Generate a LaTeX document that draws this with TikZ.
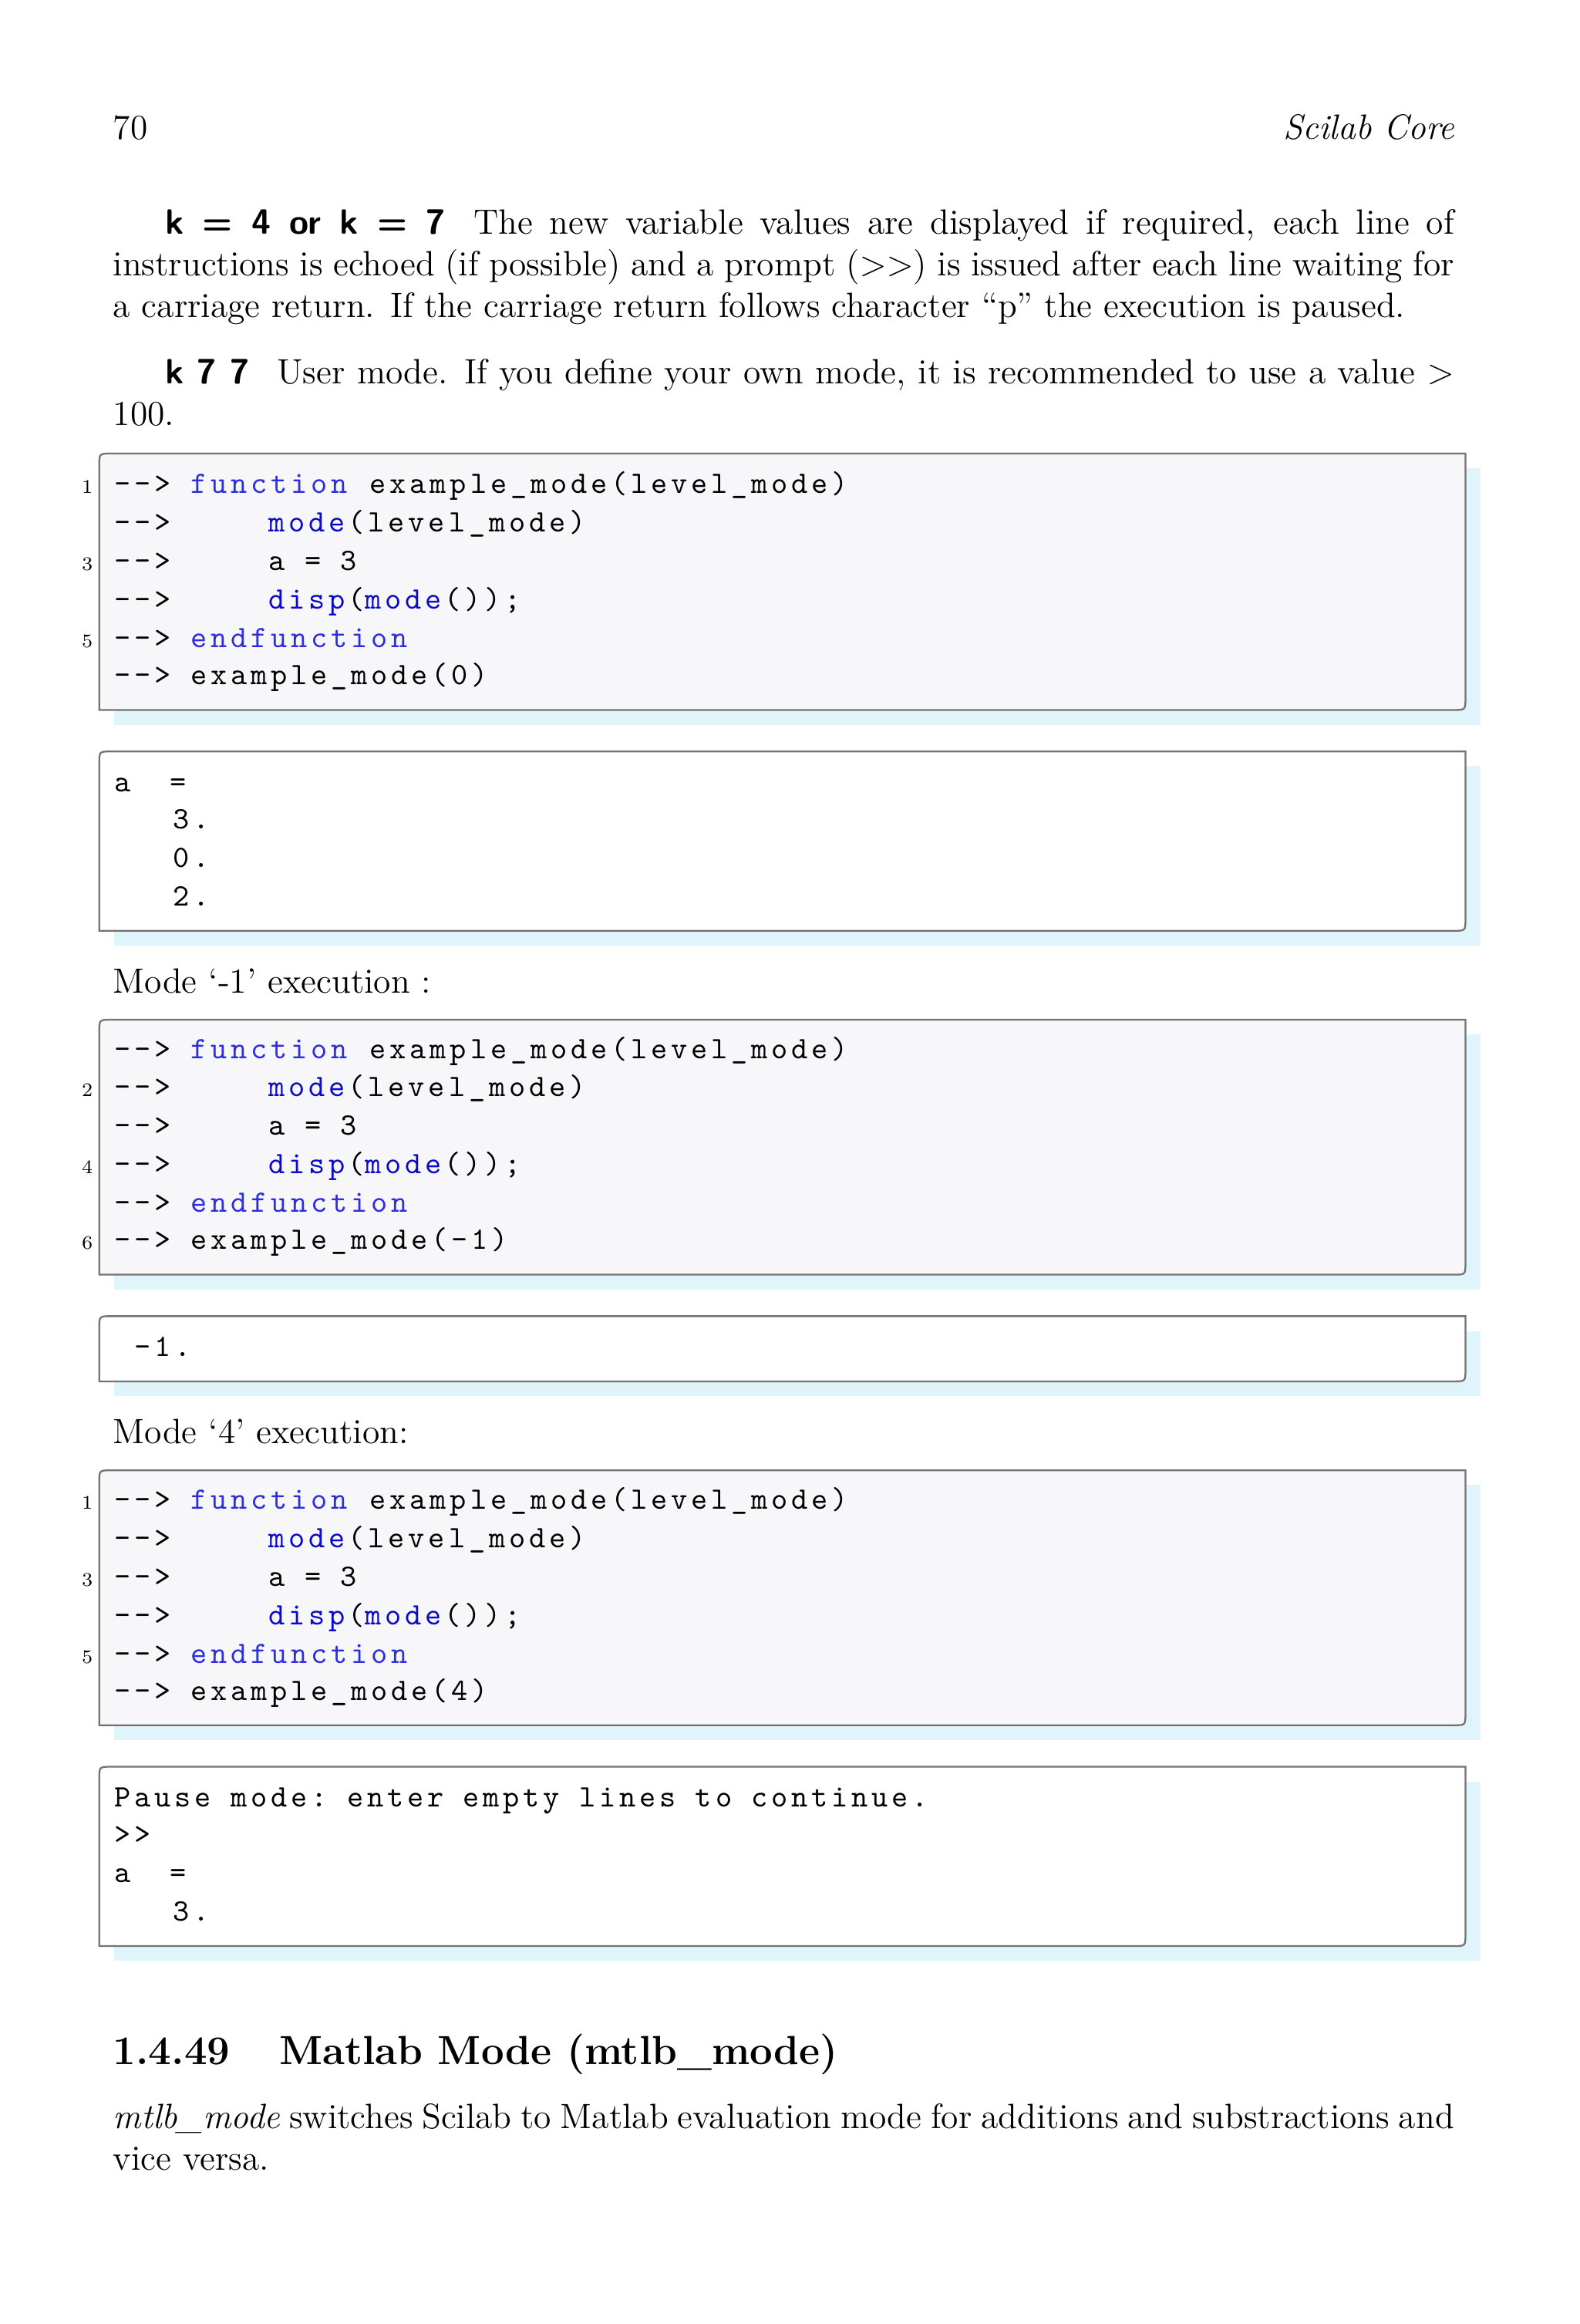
\documentclass[tikz,border=0pt]{standalone}
\usepackage{fontspec}
\newfontfamily\cf[LetterSpace=12]{Latin Modern Mono}
\definecolor{kwA}{RGB}{45,45,225}
\definecolor{kwB}{RGB}{10,10,200}
\definecolor{shad}{RGB}{224,244,251}
\definecolor{codebg}{RGB}{247,247,249}
\newcommand{\sP}{\hbox to 6.6pt{}}
\newcommand{\kA}[1]{\textcolor{kwA}{#1}\kern1pt}
\newcommand{\kB}[1]{\textcolor{kwB}{#1}\kern1pt}
\begin{document}
\begin{tikzpicture}[x=0.5pt,y=-0.5pt,
  code/.style={anchor=base west,inner sep=0pt,font=\fontsize{10.5}{12}\cf},
  lnum/.style={anchor=base east,inner sep=0pt,font=\fontsize{6.5}{7}\selectfont},
  txt/.style={anchor=base west,inner sep=0pt,font=\fontsize{11.85}{14}\selectfont},
  para/.style={anchor=north west,inner sep=0pt,text width=452.5pt,align=justify,font=\fontsize{11.85}{14}\selectfont}]
\useasboundingbox[fill=white] (0,0) rectangle (1066,1568);
\newcommand{\cbox}[4]{% top bottom fill name
  \fill[shad] (77,#1+10) rectangle (999,#2+10);
  \path[draw=black!55,line width=0.6pt,fill=#3] (67,#2) -- (67,#1+8) .. controls (67,#1) .. (75,#1) -- (989,#1) -- (989,#2-8) .. controls (989,#2) .. (981,#2) -- cycle;
  \node[inner sep=0pt] (#4) at (528,#1/2+#2/2) {};}
\node[txt] (pg) at (76,94) {70};
\node[txt,anchor=base east] (hd) at (982,94) {\itshape Scilab Core};
\node[para] (p1) at (76,141) {\hspace*{17.5pt}{\sffamily\bfseries k = 4 or k = 7}\hspace{0.8em}The new variable values are displayed if required, each line of instructions is echoed (if possible) and a prompt ($>>$) is issued after each line waiting for a carriage return. If the carriage return follows character ``p'' the execution is paused.};
\node[para] (p2) at (76,242) {\hspace*{17.5pt}{\sffamily\bfseries k 7 7}\hspace{0.8em}User mode. If you define your own mode, it is recommended to use a value $>$ 100.};
% box 1
\cbox{306}{479}{codebg}{b1}
\node[code] (l11) at (77,333) {-{}-{}>\sP\kA{function}\sP example\_mode(level\_mode)};
\node[code] (l12) at (77,359) {-{}-{}>\sP\sP\sP\sP\sP\kB{mode}(level\_mode)};
\node[code] (l13) at (77,385) {-{}-{}>\sP\sP\sP\sP\sP a\sP=\sP3};
\node[code] (l14) at (77,411) {-{}-{}>\sP\sP\sP\sP\sP\kB{disp}(\kB{mode}());};
\node[code] (l15) at (77,437) {-{}-{}>\sP\kA{endfunction}};
\node[code] (l16) at (77,462) {-{}-{}>\sP example\_mode(0)};
\node[lnum] (n11) at (63,333) {1};
\node[lnum] (n13) at (63,385) {3};
\node[lnum] (n15) at (63,437) {5};
% box 2
\cbox{507}{628}{white}{b2}
\node[code] (o21) at (77,534) {a\sP\sP=};
\node[code] (o22) at (77,559) {\sP\sP\sP3.};
\node[code] (o23) at (77,585) {\sP\sP\sP0.};
\node[code] (o24) at (77,611) {\sP\sP\sP2.};
\node[txt] (m1) at (76,670) {Mode `-1' execution :};
% box 3
\cbox{688}{860}{codebg}{b3}
\node[code] (l31) at (77,714) {-{}-{}>\sP\kA{function}\sP example\_mode(level\_mode)};
\node[code] (l32) at (77,740) {-{}-{}>\sP\sP\sP\sP\sP\kB{mode}(level\_mode)};
\node[code] (l33) at (77,766) {-{}-{}>\sP\sP\sP\sP\sP a\sP=\sP3};
\node[code] (l34) at (77,792) {-{}-{}>\sP\sP\sP\sP\sP\kB{disp}(\kB{mode}());};
\node[code] (l35) at (77,818) {-{}-{}>\sP\kA{endfunction}};
\node[code] (l36) at (77,843) {-{}-{}>\sP example\_mode(-1)};
\node[lnum] (n32) at (63,740) {2};
\node[lnum] (n34) at (63,792) {4};
\node[lnum] (n36) at (63,843) {6};
% box 4
\cbox{888}{932}{white}{b4}
\node[code] (o41) at (77,915) {\sP-1.};
\node[txt] (m2) at (76,974) {Mode `4' execution:};
% box 5
\cbox{992}{1164}{codebg}{b5}
\node[code] (l51) at (77,1018) {-{}-{}>\sP\kA{function}\sP example\_mode(level\_mode)};
\node[code] (l52) at (77,1044) {-{}-{}>\sP\sP\sP\sP\sP\kB{mode}(level\_mode)};
\node[code] (l53) at (77,1070) {-{}-{}>\sP\sP\sP\sP\sP a\sP=\sP3};
\node[code] (l54) at (77,1096) {-{}-{}>\sP\sP\sP\sP\sP\kB{disp}(\kB{mode}());};
\node[code] (l55) at (77,1122) {-{}-{}>\sP\kA{endfunction}};
\node[code] (l56) at (77,1147) {-{}-{}>\sP example\_mode(4)};
\node[lnum] (n51) at (63,1018) {1};
\node[lnum] (n53) at (63,1070) {3};
\node[lnum] (n55) at (63,1122) {5};
% box 6
\cbox{1192}{1313}{white}{b6}
\node[code] (o61) at (77,1219) {Pause\sP mode:\sP enter\sP empty\sP lines\sP to\sP continue.};
\node[code] (o62) at (77,1244) {>{}>};
\node[code] (o63) at (77,1270) {a\sP\sP=};
\node[code] (o64) at (77,1296) {\sP\sP\sP3.};
% heading
\node[anchor=base west,inner sep=0pt,font=\fontsize{13.7}{17}\bfseries] (h1) at (76,1393) {1.4.49};
\node[anchor=base west,inner sep=0pt,font=\fontsize{13.7}{17}\bfseries] (h2) at (188,1393) {Matlab Mode (mtlb\_mode)};
\node[para] (p3) at (76,1419) {\textit{mtlb\_mode} switches Scilab to Matlab evaluation mode for additions and substractions and vice versa.};
\end{tikzpicture}
\end{document}
